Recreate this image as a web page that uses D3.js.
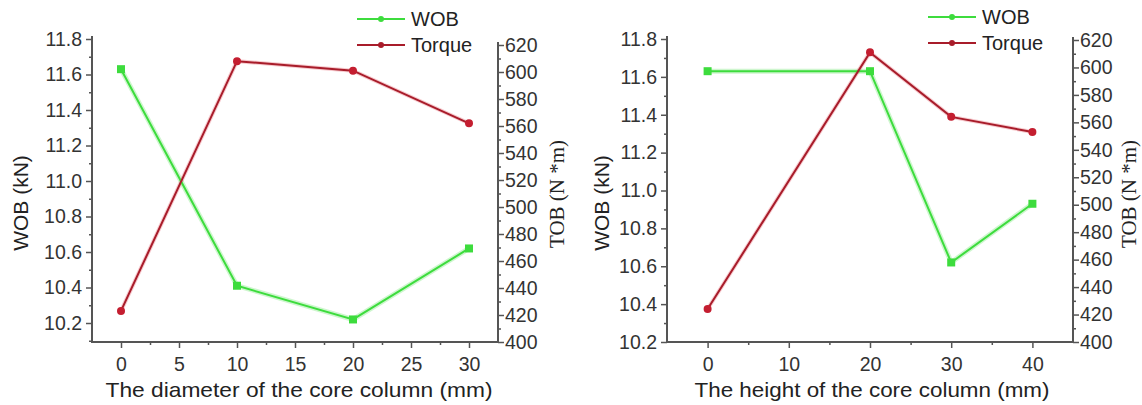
<!DOCTYPE html>
<html>
<head>
<meta charset="utf-8">
<script src="https://cdn.jsdelivr.net/npm/d3@7"></script>
<style>
  body { margin: 0; background: #fff; }
  svg { display: block; font-family: "Liberation Sans", Arial, sans-serif; }
</style>
</head>
<body>
<div id="viz"></div>
<script>
const width = 1142;
const height = 405;

// panel 1: diameter of core column
const diameter = [0, 10, 20, 30];
const wobDiameter = [11.63, 10.41, 10.22, 10.62];
const torqueDiameter = [423, 608, 601, 562];
const diameterTicks = [0, 5, 10, 15, 20, 25, 30];

// panel 2: height of core column
const heightMm = [0, 20, 30, 40];
const wobHeight = [11.63, 11.63, 10.62, 10.93];
const torqueHeight = [424, 611, 564, 553];
const heightTicks = [0, 10, 20, 30, 40];

const wobTicks = [10.2, 10.4, 10.6, 10.8, 11.0, 11.2, 11.4, 11.6, 11.8];
const tobTicks = [400, 420, 440, 460, 480, 500, 520, 540, 560, 580, 600, 620];

const green = "#3ddc3d";
const red = "#a81c2a";
const axisColor = "#555";

const svg = d3.select("#viz")
  .append("svg")
  .attr("width", width)
  .attr("height", height);

function drawPanel(p) {
  const g = svg.append("g");

  const x = d3.scaleLinear().domain(p.xDomain).range([p.left, p.right]);
  const yL = d3.scaleLinear().domain(p.wobDomain).range([p.bottom, p.wobTop]);
  const yR = d3.scaleLinear().domain([400, 620]).range([p.bottom, p.tobTop]);

  // frame: left, bottom, right axis lines
  g.append("path")
    .attr("d", `M${p.left},${p.wobTop - 3}V${p.bottom}H${p.right}V${p.tobTop - 3}`)
    .attr("fill", "none")
    .attr("stroke", axisColor)
    .attr("stroke-width", 2);

  // bottom axis
  const xAxis = g.append("g").attr("transform", `translate(0,${p.bottom})`);
  xAxis.call(d3.axisBottom(x).tickValues(p.xTicks).tickSize(6).tickSizeOuter(0).tickFormat(d3.format("d")));
  xAxis.append("g")
    .call(d3.axisBottom(x).tickValues(p.xMinor).tickSize(3).tickSizeOuter(0).tickFormat(""));

  // left axis
  const lAxis = g.append("g").attr("transform", `translate(${p.left},0)`);
  lAxis.call(d3.axisLeft(yL).tickValues(wobTicks).tickSize(6).tickSizeOuter(0).tickPadding(4).tickFormat(d3.format(".1f")));
  lAxis.append("g")
    .call(d3.axisLeft(yL).tickValues(d3.range(10.1, 11.8, 0.2).filter(v => v >= p.wobDomain[0])).tickSize(3).tickSizeOuter(0).tickFormat(""));

  // right axis
  const rAxis = g.append("g").attr("transform", `translate(${p.right},0)`);
  rAxis.call(d3.axisRight(yR).tickValues(tobTicks).tickSize(6).tickSizeOuter(0).tickPadding(1).tickFormat(d3.format("d")));
  rAxis.append("g")
    .call(d3.axisRight(yR).tickValues(d3.range(410, 620, 20)).tickSize(3).tickSizeOuter(0).tickFormat(""));

  g.selectAll(".domain").remove();
  g.selectAll(".tick line").attr("stroke", axisColor).attr("stroke-width", 1.5);
  g.selectAll(".tick text")
    .attr("font-size", 19.5)
    .attr("fill", "#333")
    .attr("font-family", "'Liberation Sans', Arial, sans-serif");
  xAxis.selectAll(".tick text").attr("dy", "1.0em");

  // series
  const wob = p.xs.map((v, i) => [v, p.wob[i]]);
  const tob = p.xs.map((v, i) => [v, p.tob[i]]);
  const wobLine = d3.line().x(d => x(d[0])).y(d => yL(d[1]));
  const tobLine = d3.line().x(d => x(d[0])).y(d => yR(d[1]));

  // soft glow under the lines, like the scanned figure
  g.append("path").datum(wob).attr("d", wobLine)
    .attr("fill", "none").attr("stroke", green).attr("stroke-opacity", 0.25).attr("stroke-width", 5);
  g.append("path").datum(tob).attr("d", tobLine)
    .attr("fill", "none").attr("stroke", "#e03040").attr("stroke-opacity", 0.25).attr("stroke-width", 4);

  g.append("path")
    .datum(wob)
    .attr("d", wobLine)
    .attr("fill", "none")
    .attr("stroke", green)
    .attr("stroke-width", 2);
  g.selectAll(".wobPt").data(wob).join("rect")
    .attr("x", d => x(d[0]) - 4)
    .attr("y", d => yL(d[1]) - 4)
    .attr("width", 8)
    .attr("height", 8)
    .attr("fill", green);

  g.append("path")
    .datum(tob)
    .attr("d", tobLine)
    .attr("fill", "none")
    .attr("stroke", red)
    .attr("stroke-width", 2);
  g.selectAll(".tobPt").data(tob).join("circle")
    .attr("cx", d => x(d[0]))
    .attr("cy", d => yR(d[1]))
    .attr("r", 4)
    .attr("fill", "#c41e30");

  // legend
  const legend = [["WOB", green], ["Torque", red]];
  legend.forEach(([name, c], i) => {
    const ly = p.legendY + i * 26;
    g.append("line")
      .attr("x1", p.legendX).attr("x2", p.legendX + 48)
      .attr("y1", ly).attr("y2", ly)
      .attr("stroke", c).attr("stroke-width", 2);
    g.append("circle")
      .attr("cx", p.legendX + 24).attr("cy", ly).attr("r", 3)
      .attr("fill", c);
    g.append("text")
      .attr("x", p.legendX + 54)
      .attr("y", ly + 7)
      .attr("font-size", 20)
      .attr("fill", "#222")
      .text(name);
  });

  // axis titles
  g.append("text")
    .attr("x", p.xTitleX)
    .attr("y", 397)
    .attr("text-anchor", "middle")
    .attr("font-size", 21)
    .attr("textLength", p.xTitleLen)
    .attr("lengthAdjust", "spacingAndGlyphs")
    .attr("fill", "#222")
    .text(p.xTitle);

  g.append("text")
    .attr("transform", `translate(${p.wobLabelX},${p.labelY}) rotate(-90)`)
    .attr("text-anchor", "middle")
    .attr("font-size", 21)
    .attr("fill", "#222")
    .text("WOB (kN)");

  g.append("text")
    .attr("transform", `translate(${p.tobLabelX},${p.labelY - 9}) rotate(-90)`)
    .attr("text-anchor", "middle")
    .attr("font-size", 21)
    .attr("font-family", "'Liberation Serif', 'Times New Roman', serif")
    .attr("fill", "#222")
    .text("TOB (N *m)");
}

drawPanel({
  xs: diameter, wob: wobDiameter, tob: torqueDiameter,
  xDomain: [-2.5, 32.5], xTicks: diameterTicks,
  xMinor: d3.range(2.5, 32.5, 5),
  wobDomain: [10.093, 11.8],
  left: 92, right: 498, bottom: 342, wobTop: 39, tobTop: 45,
  legendX: 357, legendY: 19,
  wobLabelX: 28, tobLabelX: 564, labelY: 203,
  xTitle: "The diameter of the core column (mm)", xTitleLen: 387, xTitleX: 299
});

drawPanel({
  xs: heightMm, wob: wobHeight, tob: torqueHeight,
  xDomain: [-5, 45], xTicks: heightTicks,
  xMinor: d3.range(5, 45, 10),
  wobDomain: [10.2, 11.8],
  left: 667, right: 1073, bottom: 342, wobTop: 39, tobTop: 40,
  legendX: 928, legendY: 17,
  wobLabelX: 609, tobLabelX: 1136, labelY: 203,
  xTitle: "The height of the core column (mm)", xTitleLen: 355, xTitleX: 872
});
</script>
</body>
</html>
